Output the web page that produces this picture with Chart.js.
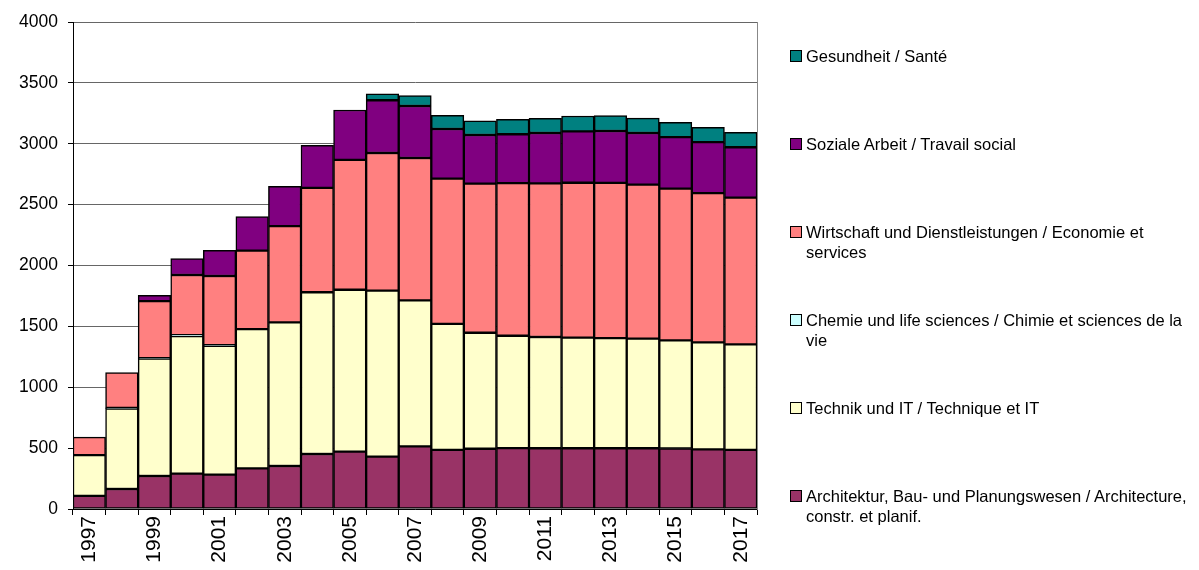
<!DOCTYPE html>
<html>
<head>
<meta charset="utf-8">
<script src="https://cdn.jsdelivr.net/npm/chart.js@4/dist/chart.umd.min.js"></script>
<style>
  body { margin: 0; background: #fff; font-family: "Liberation Sans", Arial, sans-serif; }
  #wrap { position: relative; width: 1199px; height: 570px; }
  #legend { position: absolute; left: 790px; top: 0; }
  .item { position: absolute; left: 0; width: 409px; font-size: 16.5px; line-height: 20px; color: #000; white-space: pre-line; padding-left: 16px; }
  .box { position: absolute; left: 0; top: 4px; width: 10px; height: 10px; border: 1px solid #000; }
</style>
</head>
<body>
<div id="wrap">
  <canvas id="chart" width="1199" height="570"></canvas>
  <div id="legend"></div>
</div>
<script>
const years = ['1997','1998','1999','2000','2001','2002','2003','2004','2005','2006','2007',
  '2008','2009','2010','2011','2012','2013','2014','2015','2016','2017'];

const architektur = [108,164,271,290,282,334,353,452,471,430,515,485,495,500,499,499,499,499,497,490,485];
const technik     = [335,660,964,1130,1058,1144,1180,1328,1330,1363,1199,1035,953,923,914,908,905,900,888,879,867];
const chemie      = [0,6,4,8,6,0,0,0,0,0,0,0,0,0,0,0,0,0,0,0,0];
const wirtschaft  = [148,290,469,494,568,644,791,857,1066,1131,1169,1193,1224,1253,1261,1273,1274,1265,1246,1226,1205];
const sozial      = [0,0,47,134,211,279,326,350,410,433,427,408,400,402,414,422,427,424,424,419,414];
const gesundheit  = [0,0,0,0,0,0,0,0,0,52,85,113,117,122,121,126,126,123,121,121,123];

const yTicks = [0,500,1000,1500,2000,2500,3000,3500,4000];

const series = [
  { name: 'Architektur, Bau- und Planungswesen / Architecture,\nconstr. et planif.', data: architektur, color: '#993366' },
  { name: 'Technik und IT / Technique et IT', data: technik, color: '#FFFFCC' },
  { name: 'Chemie und life sciences / Chimie et sciences de la\nvie', data: chemie, color: '#CCFFFF' },
  { name: 'Wirtschaft und Dienstleistungen / Economie et\nservices', data: wirtschaft, color: '#FF8080' },
  { name: 'Soziale Arbeit / Travail social', data: sozial, color: '#800080' },
  { name: 'Gesundheit / Santé', data: gesundheit, color: '#008080' }
];

const family = '"Liberation Sans", Arial, sans-serif';

new Chart(document.getElementById('chart'), {
  type: 'bar',
  data: {
    labels: years,
    datasets: series.map(s => ({
      label: s.name,
      data: s.data,
      backgroundColor: s.color,
      borderColor: '#000',
      borderWidth: 1.5,
      borderSkipped: false,
      categoryPercentage: 1,
      barPercentage: 1
    }))
  },
  options: {
    responsive: false,
    animation: false,
    layout: { padding: { top: 22, right: 442, left: 0, bottom: 0 } },
    plugins: { legend: { display: false }, tooltip: { enabled: false } },
    scales: {
      x: {
        stacked: true,
        afterFit: s => { s.height = 61; },
        border: { color: '#000', width: 1 },
        grid: { drawOnChartArea: false, color: '#000', tickLength: 6, offset: true },
        ticks: {
          color: '#000', font: { family, size: 21 }, autoSkip: false, minRotation: 90, maxRotation: 90, padding: 1,
          callback: (v, i) => i % 2 === 0 ? years[i] : ''
        }
      },
      y: {
        stacked: true,
        min: 0, max: 4000,
        afterFit: s => { s.width = 73; },
        afterBuildTicks: s => { s.ticks = yTicks.map(v => ({ value: v })); },
        border: { color: '#000', width: 1 },
        grid: { color: '#666', tickColor: '#000', tickLength: 5 },
        ticks: { color: '#000', font: { family, size: 17.5 }, padding: 10, callback: v => String(v) }
      },
      yRight: {
        position: 'right',
        min: 0, max: 4000,
        afterFit: s => { s.width = 0; },
        border: { color: '#888', width: 1 },
        grid: { display: false },
        ticks: { display: false }
      }
    }
  }
});

// legend, top entry = last series
const legend = document.getElementById('legend');
series.slice().reverse().forEach((s, i) => {
  const d = document.createElement('div');
  d.className = 'item';
  d.style.top = (46 + 88 * i) + 'px';
  d.innerHTML = '<span class="box" style="background:' + s.color + '"></span>';
  d.appendChild(document.createTextNode(s.name));
  legend.appendChild(d);
});
</script>
</body>
</html>
